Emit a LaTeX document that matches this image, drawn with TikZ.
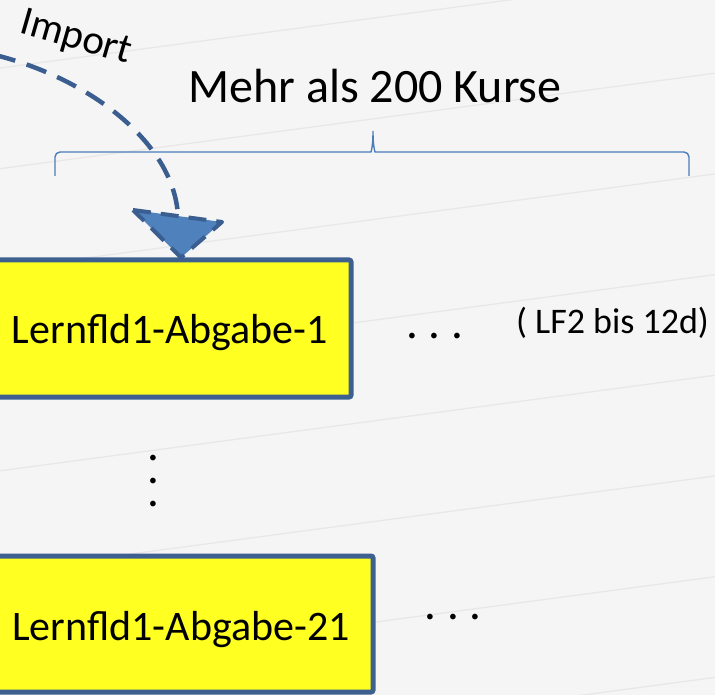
\documentclass[tikz,border=0pt]{standalone}
\usepackage{fontspec}
\setmainfont{Carlito}
\begin{document}
\begin{tikzpicture}[x=1pt,y=-1pt,
  paperline/.style={draw=black!9,line width=1.3pt},
  boxstyle/.style={draw=boxblue,fill=boxyellow,line width=5pt,rounded corners=2pt,
    font=\fontsize{42}{46}\selectfont,minimum width=362pt,inner sep=0pt},
  importline/.style={draw=arrowblue,line width=4.5pt,dash pattern=on 21pt off 12pt},
  headstyle/.style={draw=arrowblue,fill=headblue,line width=4pt,dash pattern=on 18pt off 10pt,line join=round},
  bracestyle/.style={draw=braceblue,line width=1.4pt,rounded corners=5pt},
  dotstyle/.style={font=\fontsize{47}{50}\selectfont,anchor=base,inner sep=0pt},
]
\definecolor{bg}{RGB}{245,245,245}
\definecolor{boxblue}{RGB}{62,96,145}
\definecolor{boxyellow}{RGB}{255,255,33}
\definecolor{arrowblue}{RGB}{58,94,143}
\definecolor{headblue}{RGB}{79,129,189}
\definecolor{braceblue}{RGB}{74,126,187}
\useasboundingbox (0,0) rectangle (715,695);
\clip (0,0) rectangle (715,695);
\fill[bg] (0,0) rectangle (715,695);
\foreach \k in {0,...,7}{
  \pgfmathsetmacro{\ya}{68+100.7*\k}
  \pgfmathsetmacro{\yb}{\ya-95.5}
  \draw[paperline] (0,\ya) -- (715,\yb);
}
% title and brace
\node[font=\fontsize{48}{52}\selectfont,anchor=base,inner sep=0pt] (title) at (375,103) {Mehr als 200 Kurse};
\draw[bracestyle] (55,176) -- (55,152) -- (366,152) .. controls (371,152) and (373,146) .. (373,128)
  .. controls (373,146) and (375,152) .. (380,152) -- (689,152) -- (689,176);
% boxes
\node[boxstyle,minimum height=137pt,text height=29pt,text depth=0pt] (box1) at (170,328.5) {Lernfld1-Abgabe-1};
\node[boxstyle,minimum height=136pt,text height=32pt,text depth=0pt,minimum width=384pt] (box2) at (181,624) {Lernfld1-Abgabe-21};
% dots
\node[dotstyle] (dots1) at (434.5,338) {.\ .\ .};
\node[dotstyle] (dots2) at (453,619) {.\ .\ .};
\node[font=\fontsize{47}{23}\selectfont,align=center,inner sep=0pt,anchor=center] (vdots) at (153,481) {.\\.\\.};
\node[font=\fontsize{36}{40}\selectfont,anchor=base,inner sep=0pt] (lf) at (612.5,333) {( LF2 bis 12d)};
% import arrow
\node[font=\fontsize{41}{44}\selectfont,anchor=base,inner sep=0pt,rotate=-16] (imp) at (73,48) {Import};
\coordinate (src) at (-5,55);
\coordinate (hb) at (178,216);
\draw[importline] (src) .. controls (88,78) and (174,142) .. (hb);
\filldraw[headstyle] (133,210) -- (222,222) -- (box1.north -| 181,0) -- cycle;
\end{tikzpicture}
\end{document}
